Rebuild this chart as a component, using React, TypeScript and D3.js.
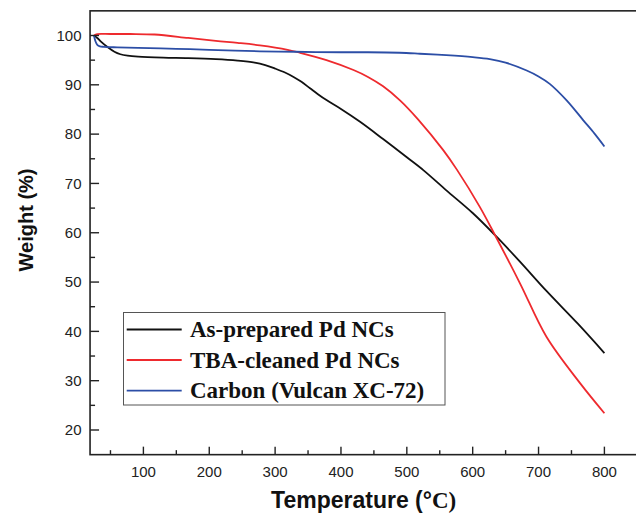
import React from "react";
import * as d3 from "d3";

// ---- Data ----
const asPreparedT = [25, 30, 36, 45, 56, 65, 76, 92, 130, 168, 210, 243, 269, 285, 300, 315, 328, 340, 353, 365, 378, 400, 429, 464, 500, 525, 560, 600, 634, 670, 712, 760, 800];
const asPreparedW = [100, 99.5, 98.7, 97.7, 96.7, 96.2, 95.9, 95.7, 95.5, 95.4, 95.2, 94.9, 94.5, 94.0, 93.3, 92.5, 91.6, 90.6, 89.3, 88.1, 86.9, 85.1, 82.5, 79.0, 75.3, 72.7, 68.6, 64.0, 59.5, 54.4, 48.2, 41.5, 35.6];

const tbaT = [25, 30, 50, 80, 117, 168, 210, 243, 277, 319, 338, 378, 419, 441, 464, 490, 517, 555, 576, 611, 634, 672, 712, 763, 800];
const tbaW = [100, 100.3, 100.3, 100.3, 100.2, 99.5, 98.9, 98.5, 98.0, 97.1, 96.5, 95.0, 93.0, 91.6, 89.7, 86.8, 83.0, 76.8, 72.8, 65.2, 59.5, 49.7, 38.9, 29.5, 23.4];

const carbonT = [25, 27, 30, 34, 40, 60, 92, 150, 200, 277, 330, 400, 441, 489, 520, 560, 600, 626, 650, 682, 700, 717, 743, 768, 785, 800];
const carbonW = [100, 98.9, 98.1, 97.8, 97.7, 97.6, 97.5, 97.3, 97.1, 96.8, 96.7, 96.6, 96.6, 96.5, 96.3, 96.0, 95.6, 95.2, 94.5, 92.9, 91.7, 90.2, 86.8, 82.8, 80.1, 77.5];

const seriesNames = ["As-prepared Pd NCs", "TBA-cleaned Pd NCs", "Carbon (Vulcan XC-72)"];
const seriesColors = ["#111111", "#EE2A2E", "#2C4EA6"];

const xMajorTicks = [100, 200, 300, 400, 500, 600, 700, 800];
const xMinorTicks = [50, 150, 250, 350, 450, 550, 650, 750];
const yMajorTicks = [20, 30, 40, 50, 60, 70, 80, 90, 100];
const yMinorTicks = [25, 35, 45, 55, 65, 75, 85, 95];

const xDomain = [19, 850];
const yDomain = [15, 105];

export default function App() {
  const W = 636, H = 517;
  const x = d3.scaleLinear().domain([100, 800]).range([143.4, 604.4]);
  const y = d3.scaleLinear().domain([20, 100]).range([430, 35.5]);
  const left = x(xDomain[0]);
  const right = x(xDomain[1]);
  const top = y(yDomain[1]);
  const bottom = y(yDomain[0]);

  const series = [
    { t: asPreparedT, w: asPreparedW },
    { t: tbaT, w: tbaW },
    { t: carbonT, w: carbonW },
  ];
  const line = d3
    .line<[number, number]>()
    .x((d) => x(d[0]))
    .y((d) => y(d[1]))
    .curve(d3.curveCatmullRom.alpha(0.5));

  const sans = "'Liberation Sans', Arial, sans-serif";
  const serif = "'Liberation Serif', 'Times New Roman', serif";
  const axisColor = "#222";

  const legX = 123.5, legY = 312.5, legW = 321.5, legH = 92.5;
  const rowY = [329.5, 360, 390.7];

  return (
    <svg
      width={W}
      height={H}
      style={{ position: "absolute", left: 0, top: 0, background: "#fff" }}
    >
      <rect x={0} y={0} width={W} height={H} fill="#fff" />
      {/* curves */}
      {series.map((s, i) => (
        <path
          key={i}
          d={line(s.t.map((t, j) => [t, s.w[j]] as [number, number])) || ""}
          fill="none"
          stroke={seriesColors[i]}
          strokeWidth={1.8}
          strokeLinejoin="round"
        />
      ))}
      {/* frame */}
      <rect
        x={left}
        y={top}
        width={right - left}
        height={bottom - top}
        fill="none"
        stroke={axisColor}
        strokeWidth={1.6}
      />
      {/* x ticks */}
      {xMajorTicks.map((t) => (
        <g key={"xm" + t}>
          <line x1={x(t)} x2={x(t)} y1={bottom} y2={bottom - 8} stroke={axisColor} strokeWidth={1.4} />
          <text x={x(t)} y={477} textAnchor="middle" fontFamily={sans} fontSize={15} fill={axisColor}>
            {t}
          </text>
        </g>
      ))}
      {xMinorTicks.map((t) => (
        <line key={"xn" + t} x1={x(t)} x2={x(t)} y1={bottom} y2={bottom - 4.5} stroke={axisColor} strokeWidth={1.4} />
      ))}
      {/* y ticks */}
      {yMajorTicks.map((t) => (
        <g key={"ym" + t}>
          <line x1={left} x2={left + 9} y1={y(t)} y2={y(t)} stroke={axisColor} strokeWidth={1.4} />
          <text x={81.5} y={y(t) + 5.3} textAnchor="end" fontFamily={sans} fontSize={15} fill={axisColor}>
            {t}
          </text>
        </g>
      ))}
      {yMinorTicks.map((t) => (
        <line key={"yn" + t} x1={left} x2={left + 5} y1={y(t)} y2={y(t)} stroke={axisColor} strokeWidth={1.4} />
      ))}
      {/* axis titles */}
      <text x={(left + right) / 2} y={508} textAnchor="middle" fontSize={23} fontWeight="bold" fill="#111">
        <tspan fontFamily={sans}>Temperature (°</tspan>
        <tspan fontFamily={serif}>C)</tspan>
      </text>
      <text
        transform={`translate(33,220) rotate(-90)`}
        textAnchor="middle"
        fontFamily={sans}
        fontSize={20}
        fontWeight="bold"
        fill="#111"
      >
        Weight (%)
      </text>
      {/* legend */}
      <rect x={legX} y={legY} width={legW} height={legH} fill="#fff" stroke="#555" strokeWidth={1} />
      {seriesNames.map((n, i) => (
        <g key={n}>
          <line x1={126.7} x2={181.7} y1={rowY[i]} y2={rowY[i]} stroke={seriesColors[i]} strokeWidth={1.8} />
          <text x={190} y={rowY[i] + 7.5} fontFamily={serif} fontWeight="bold" fontSize={23} fill="#111">
            {n}
          </text>
        </g>
      ))}
    </svg>
  );
}
